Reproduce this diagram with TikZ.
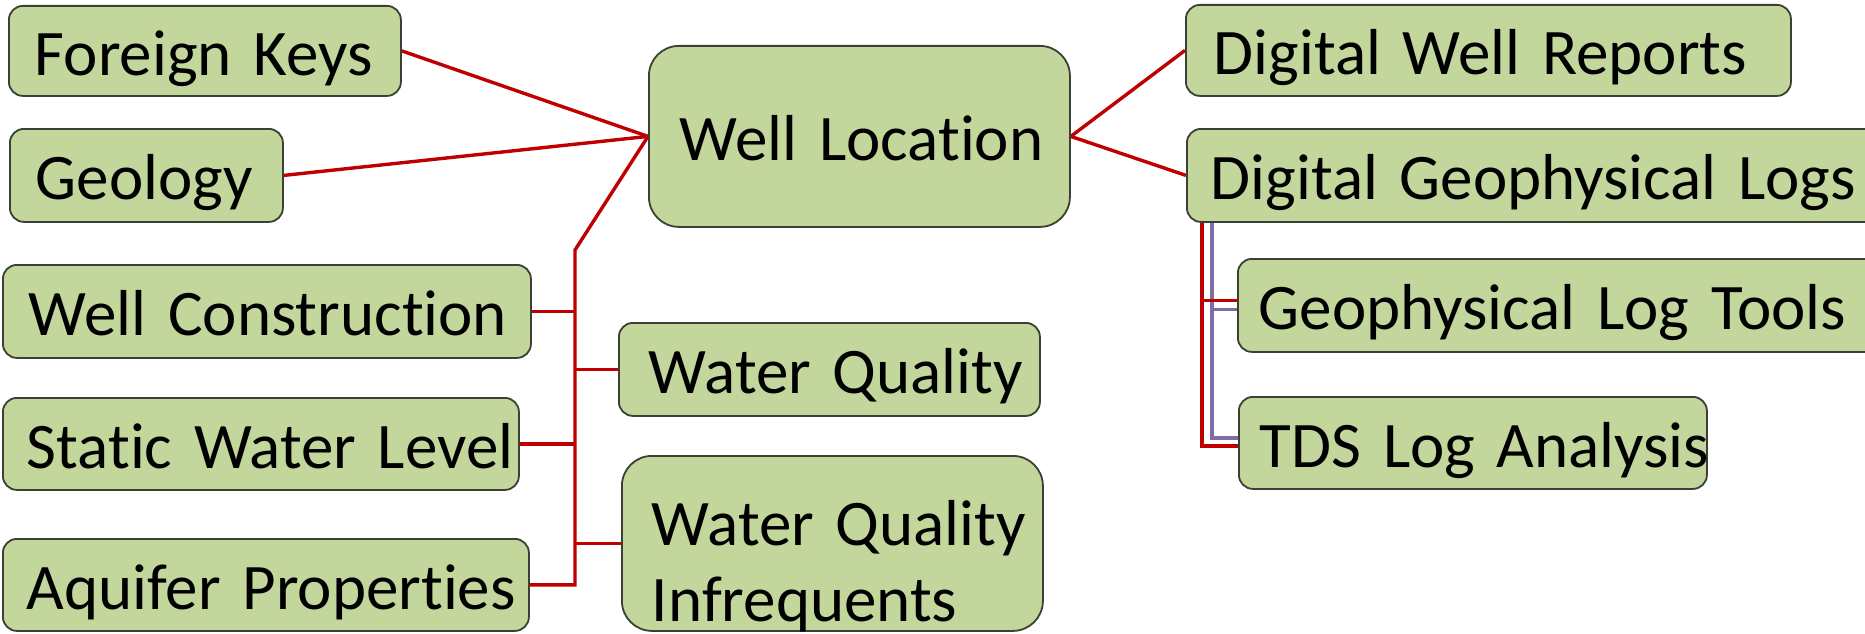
\documentclass[tikz,border=0pt]{standalone}
\usepackage{fontspec}
\setmainfont{Carlito}[Ligatures=NoCommon, WordSpace=0.8]
\usetikzlibrary{backgrounds}
\definecolor{boxc}{HTML}{C3D69B}
\definecolor{bordc}{HTML}{3A4033}
\definecolor{redc}{HTML}{C00000}
\definecolor{purc}{HTML}{7F6BA8}
\begin{document}
\begin{tikzpicture}[x=1pt,y=-1pt,
  box/.style={draw=bordc, fill=boxc, line width=1.8pt, rounded corners=14pt,
    anchor=north west, inner xsep=26pt, inner ysep=0pt, align=left,
    text height=49pt, text depth=0pt, font=\fontsize{65pt}{76pt}\selectfont},
  bigbox/.style={box, rounded corners=30pt},
  redl/.style={draw=redc, line width=3.4pt},
  purl/.style={draw=purc, line width=3.4pt}]
\useasboundingbox (0,0) rectangle (1865,634);

% left column
\node[box, text width=340pt, minimum height=90pt] (fk) at (8,5) {\mbox{Foreign Keys}};
\node[box, text width=221pt, minimum height=93pt] (geo) at (9,128) {\mbox{Geology}};
\node[box, text width=476pt, minimum height=93pt] (wc) at (2,264) {\mbox{Well Construction}};
\node[box, inner xsep=24pt, text width=468pt, minimum height=92pt] (swl) at (2,397) {\mbox{Static Water Level}};
\node[box, inner xsep=24pt, text width=478pt, minimum height=92pt] (aq) at (2,538) {\mbox{Aquifer Properties}};

% centre column
\node[bigbox, inner xsep=31pt, text width=359pt, minimum height=181pt] (wl) at (648,45) {\mbox{Well Location}};
\node[box, inner xsep=30pt, text width=361pt, minimum height=93pt] (wq) at (618,322) {\mbox{Water Quality}};
\node[bigbox, inner xsep=30pt, text width=361pt, minimum height=175pt, text height=5pt, text depth=0pt] (wqi) at (621,455) {\mbox{Water Quality}\\\mbox{Infrequents}};

% right column
\node[box, inner xsep=28pt, text width=549pt, minimum height=91pt] (dwr) at (1185,4) {\mbox{Digital Well Reports}};
\node[box, inner xsep=24pt, text width=652pt, minimum height=93pt] (dgl) at (1186,128) {\mbox{Digital Geophysical Logs}};
\node[box, inner xsep=21pt, text width=618pt, minimum height=93pt] (glt) at (1237,258) {\mbox{Geophysical Log Tools}};
\node[box, inner xsep=21pt, text width=426pt, minimum height=92pt] (tds) at (1238,396) {\mbox{TDS Log Analysis}};

\begin{scope}[on background layer]
  \fill[white] (0,0) rectangle (1865,634);
  \coordinate (bend) at (575,250);
  \draw[redl] (fk.east) -- (wl.west);
  \draw[redl] (geo.east) -- (wl.west);
  \draw[redl] (wl.west) -- (bend) -- (bend |- aq.east) -- (aq.east);
  \draw[redl] (wc.east) -- (bend |- wc.east);
  \draw[redl] (swl.east) -- (bend |- swl.east);
  \draw[redl] (wq.west) -- (bend |- wq.west);
  \draw[redl] (wqi.west) -- (bend |- wqi.west);
  \draw[redl] (wl.east) -- (dwr.west);
  \draw[redl] (wl.east) -- (dgl.west);
  % sub-branches of Digital Geophysical Logs
  \coordinate (rb) at (1202,221);
  \coordinate (pb) at (1212,221);
  \coordinate (gltr) at ([yshift=5pt]glt.west);
  \coordinate (gltp) at ([yshift=-4pt]glt.west);
  \coordinate (tdsr) at ([yshift=-3pt]tds.west);
  \coordinate (tdsp) at ([yshift=5pt]tds.west);
  \draw[purl] (pb) -- (pb |- tdsp) -- (tdsp);
  \draw[purl] (pb |- gltp) -- (gltp);
  \draw[redl] (rb) -- (rb |- tdsr) -- (tdsr);
  \draw[redl] (rb |- gltr) -- (gltr);
\end{scope}
\end{tikzpicture}
\end{document}
